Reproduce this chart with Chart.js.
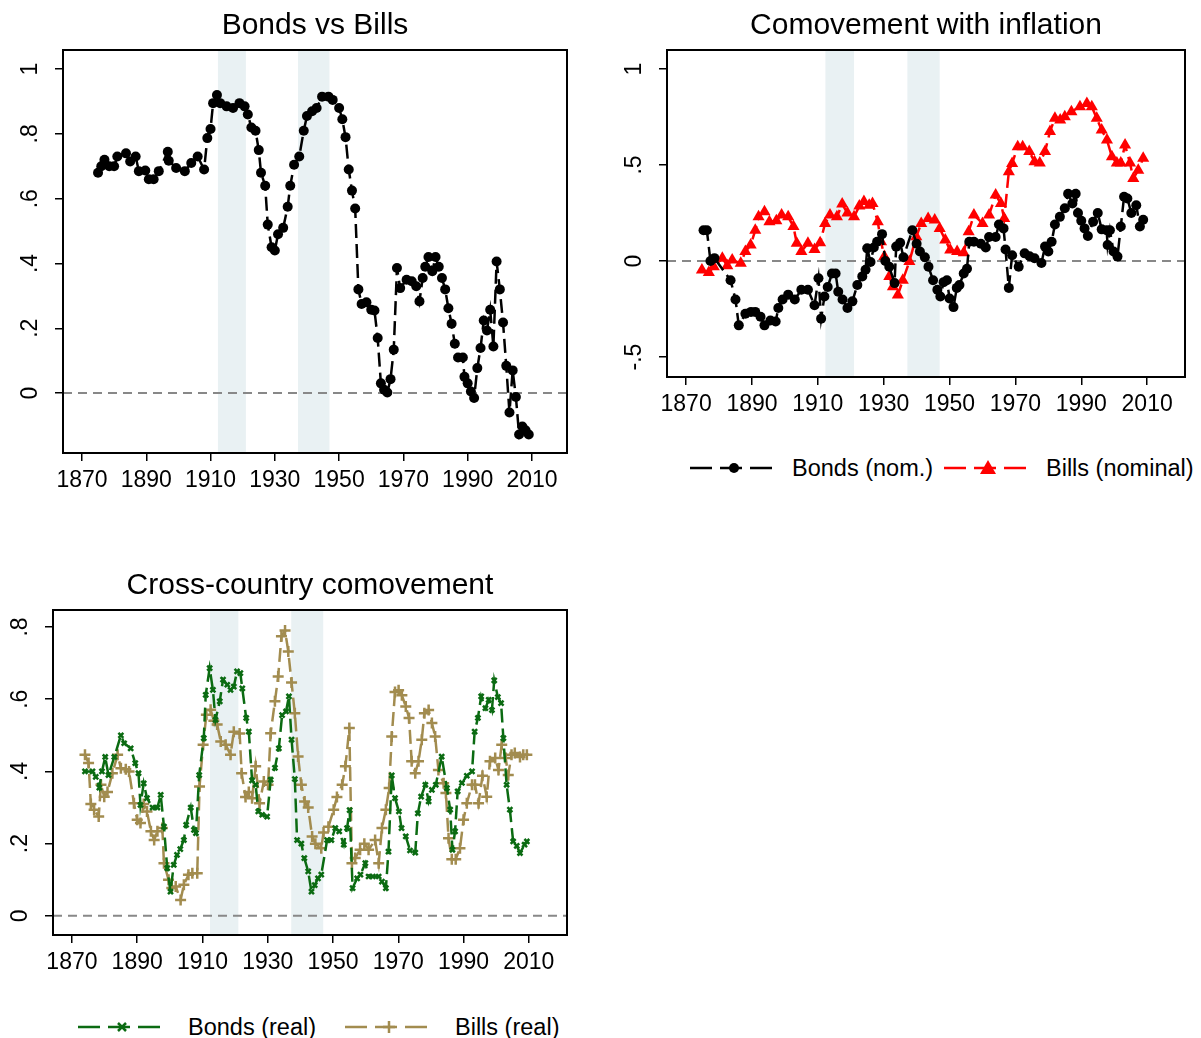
<!DOCTYPE html>
<html><head><meta charset="utf-8">
<script src="https://cdn.jsdelivr.net/npm/chart.js@4/dist/chart.umd.min.js"></script>
<style>
body{margin:0;background:#fff;width:1201px;height:1038px;position:relative;overflow:hidden;font-family:"Liberation Sans",Arial,sans-serif}
.c{position:absolute}
.leg{position:absolute;font-size:23.5px;line-height:24px;white-space:nowrap}
</style></head><body>
<div class="c" style="left:0;top:0;width:590px;height:500px"><canvas id="c1"></canvas></div>
<div class="c" style="left:600px;top:0;width:600px;height:424px"><canvas id="c2"></canvas></div>
<div class="c" style="left:0;top:560px;width:590px;height:422px"><canvas id="c3"></canvas></div>
<svg class="leg" style="left:690px;top:456px" width="88" height="24"><line x1="0" y1="12" x2="88" y2="12" stroke="#000" stroke-width="2.5" stroke-dasharray="22,8"/><circle cx="44" cy="12" r="5" fill="#000"/></svg>
<div class="leg" style="left:792px;top:456px">Bonds (nom.)</div>
<svg class="leg" style="left:944px;top:456px" width="88" height="24"><line x1="0" y1="12" x2="88" y2="12" stroke="#f00" stroke-width="2.5" stroke-dasharray="22,8"/><polygon points="44,4 52,18 36,18" fill="#f00"/></svg>
<div class="leg" style="left:1046px;top:456px">Bills (nominal)</div>
<svg class="leg" style="left:78px;top:1015px" width="88" height="24"><line x1="0" y1="12" x2="88" y2="12" stroke="#0b6b12" stroke-width="2.5" stroke-dasharray="22,8"/><path d="M40,8 L48,16 M48,8 L40,16" stroke="#0b6b12" stroke-width="2.5"/></svg>
<div class="leg" style="left:188px;top:1015px">Bonds (real)</div>
<svg class="leg" style="left:345px;top:1015px" width="88" height="24"><line x1="0" y1="12" x2="88" y2="12" stroke="#a28c4f" stroke-width="2.5" stroke-dasharray="22,8"/><path d="M44,6 L44,18 M38,12 L50,12" stroke="#a28c4f" stroke-width="2.5"/></svg>
<div class="leg" style="left:455px;top:1015px">Bills (real)</div>
<script>
const xTicks=[1870,1890,1910,1930,1950,1970,1990,2010];
const yTicks1=[0,0.2,0.4,0.6,0.8,1];
const yTicks2=[-0.5,0,0.5,1];
const yTicks3=[0,0.2,0.4,0.6,0.8];
const warBands=[[1912.3,1921],[1937.2,1947]];

const bbYears=[1875,1876,1877,1878.5,1880,1881,1883.7,1885,1886.7,1887.7,1889.7,1890.8,1892.3,1893.9,1896.7,1897,1899.3,1902,1904,1906,1908,1909,1910,1910.8,1912,1913,1915,1917,1919,1920.6,1921.6,1922.7,1924,1925,1925.7,1927,1927.8,1929,1930,1931,1932.6,1934,1934.8,1936,1937.6,1939,1940,1941.6,1943,1944.7,1946.7,1948,1950,1951,1952,1953,1954,1955,1956,1957,1958.5,1960,1961,1962,1963,1964,1965,1966,1967,1968,1969,1971,1972.6,1974,1975,1976,1976.8,1977.8,1979,1980,1981,1982,1983,1984,1985,1986,1987,1988.5,1989,1990,1991,1992,1993,1994,1995,1996,1997,1998,1999,2000,2001,2002,2003,2004,2005,2006,2007,2008,2009];
const bbVals=[.68,.70,.72,.70,.70,.73,.74,.715,.73,.685,.687,.66,.66,.685,.745,.717,.695,.685,.71,.73,.69,.787,.815,.895,.92,.895,.885,.88,.895,.885,.86,.82,.81,.75,.68,.64,.52,.45,.44,.49,.51,.575,.64,.705,.73,.81,.855,.87,.88,.915,.915,.905,.88,.845,.79,.69,.625,.57,.32,.275,.28,.257,.255,.17,.03,.01,.002,.043,.134,.386,.324,.35,.345,.33,.283,.355,.39,.42,.376,.42,.39,.355,.32,.262,.214,.152,.11,.11,.05,.03,.005,-.015,.077,.139,.224,.193,.257,.144,.406,.32,.218,.084,-.06,.07,-.012,-.128,-.103,-.115,-.128];

const bnYears=[1875.3,1876.3,1877.4,1878.6,1883.5,1885,1886,1888,1889.7,1891,1892.6,1893.8,1895.6,1897.2,1898,1899.3,1901,1903,1905,1907,1909,1910.2,1911,1912,1913,1914.3,1915.4,1916.2,1917.5,1919,1920.5,1922,1923.5,1924.5,1925,1926,1927,1928,1929.5,1930.5,1931.7,1933.3,1933.8,1935,1936,1938.7,1940,1941,1942.5,1943.6,1945,1946.3,1947.2,1948.2,1949.2,1950,1951.2,1952.2,1953,1954.3,1955.3,1956,1957.4,1959.5,1961,1962,1964,1965,1966.4,1967,1968,1969,1971,1972.8,1974.3,1975.8,1977.9,1979,1980,1981,1982,1983.5,1985,1986,1987.3,1988.3,1989,1990,1991,1992,1993.6,1995,1996.2,1997.7,1998,1998.7,1999.8,2001,2002,2003,2004,2005.2,2006.7,2007.8,2008.8];
const bnVals=[.16,.16,0,.015,-.1,-.2,-.335,-.275,-.265,-.265,-.29,-.335,-.31,-.315,-.245,-.2,-.175,-.2,-.15,-.15,-.23,-.09,-.3,-.185,-.135,-.065,-.065,-.16,-.2,-.245,-.21,-.125,-.08,-.045,.066,-.005,.07,.1,.14,.0,-.03,-.115,.075,.095,.02,.16,.09,.05,.02,-.03,-.1,-.15,-.185,-.11,-.1,-.195,-.24,-.14,-.125,-.065,-.04,.1,.1,.09,.07,.125,.125,.19,.17,.06,-.14,.03,-.03,.04,.025,.014,-.01,.075,.05,.1,.19,.23,.275,.35,.3,.35,.25,.21,.17,.13,.205,.25,.165,.16,.083,.16,.05,.023,.18,.335,.326,.25,.29,.18,.215];

const blYears=[1874.8,1876.9,1878.4,1881,1882.5,1884,1886.6,1888,1889.6,1891,1892,1893.8,1895.3,1897.4,1899,1901,1902.6,1903.6,1905,1907,1909,1910.7,1912.2,1913.7,1915.8,1917.4,1919,1921,1922.6,1924,1925.6,1926.6,1928.2,1929.2,1930.2,1931.7,1932.8,1934.3,1935.8,1937.8,1939.9,1941.4,1943.5,1945.5,1947,1948.7,1950.2,1952.3,1954.3,1955.8,1957.4,1960,1962,1964,1965.6,1966.6,1968,1969,1970.7,1972.2,1974.2,1975.8,1977.4,1979,1980.5,1982,1983.6,1985,1987,1989.6,1991.7,1993.2,1994.7,1996.2,1997.8,1999.3,2000.8,2002,2003.3,2004.8,2005.8,2007.3,2008.8];
const blVals=[-.047,-.06,-.03,.015,-.025,.005,-.012,.05,.083,.16,.23,.257,.205,.21,.24,.23,.18,.092,.05,.092,.06,.095,.196,.24,.23,.297,.25,.23,.286,.31,.29,.3,.205,.1,.023,-.08,-.134,-.177,-.1,-.003,.127,.196,.222,.213,.17,.11,.057,.05,.043,.153,.24,.196,.24,.344,.3,.222,.465,.508,.595,.595,.57,.517,.51,.57,.674,.743,.734,.752,.778,.804,.82,.804,.743,.682,.63,.543,.51,.51,.604,.51,.43,.473,.535];

const brYears=[1874,1876.3,1877.3,1878.4,1879.2,1880.2,1881.2,1883,1885,1886,1888,1889.4,1890.4,1891,1892,1893,1894.7,1896.2,1897.2,1898.2,1899.2,1900.2,1901.2,1902.2,1903.2,1904.3,1905,1906.4,1907.4,1908,1909,1910.4,1911,1912.2,1913.2,1914,1915.3,1916.3,1917.6,1918.6,1919.6,1920.6,1921.6,1922.2,1923.4,1924.2,1925.2,1926.3,1927.1,1928.3,1929.8,1930.9,1932.2,1933.4,1934.4,1935.6,1936.5,1937.3,1938.3,1939,1940.3,1941.2,1942.4,1943.4,1944.4,1945.4,1946.4,1948.2,1949.5,1950.7,1951.9,1953.3,1954.3,1955.1,1956,1957.4,1958.4,1959.9,1960.9,1962.2,1964,1965,1966.2,1967,1968,1969,1970.2,1971,1972.3,1973.6,1975.2,1976,1977,1978.3,1979.3,1980.3,1981.5,1983.3,1984.9,1985.9,1986.6,1987.4,1988.2,1989.5,1991,1992.6,1993.4,1994.4,1995.4,1996.7,1997.7,1998.7,1999.4,2000.5,2001.5,2002.2,2003.2,2004.2,2005.2,2006.3,2007.3,2008.7,2009.4];
const brVals=[.40,.40,.385,.355,.40,.44,.39,.44,.50,.478,.464,.423,.395,.307,.367,.326,.3,.3,.335,.247,.132,.067,.141,.169,.185,.21,.252,.3,.238,.229,.39,.492,.612,.686,.626,.543,.594,.654,.64,.626,.635,.677,.672,.63,.548,.51,.375,.363,.289,.28,.275,.377,.41,.464,.556,.566,.608,.488,.379,.21,.2,.16,.123,.067,.085,.104,.114,.21,.21,.243,.234,.197,.243,.293,.077,.104,.114,.146,.109,.109,.109,.095,.077,.178,.389,.326,.289,.243,.22,.181,.175,.284,.33,.363,.317,.349,.363,.441,.354,.294,.183,.234,.345,.368,.388,.40,.51,.548,.608,.575,.598,.57,.652,.606,.589,.492,.363,.294,.206,.194,.174,.197,.206];

const rlYears=[1874,1875.1,1875.8,1876.8,1878.2,1878.9,1879.9,1880.9,1882.4,1884,1885,1886.5,1887.5,1889,1890,1891,1892,1893,1894.2,1895.2,1896.2,1897.7,1898.2,1899.6,1900.6,1901.8,1903.3,1904.3,1905.7,1906.9,1908.4,1909.1,1910.2,1911.2,1912.5,1913.5,1914.5,1915.6,1917.1,1918.6,1919.6,1921.4,1922,1923.2,1924.2,1925.2,1926.3,1927.5,1928.8,1930.1,1930.9,1932.2,1933.2,1934.2,1935.3,1936.3,1937.3,1938.3,1939.3,1940.3,1941.3,1942.4,1943.6,1944.6,1946.4,1947.1,1948.6,1950.2,1951.2,1952.8,1953.8,1955,1955.8,1956.8,1958.3,1959.6,1960.9,1962.9,1964,1965,1966.2,1967.2,1968,1969,1970.1,1971.1,1972.3,1973.3,1974.1,1975.2,1976.2,1977.2,1978,1979.3,1980.3,1981.3,1982.3,1983.9,1984.6,1985.4,1986.4,1987.6,1988.9,1990,1991,1992.6,1993.5,1994.6,1995.8,1997.1,1998.1,1999.7,2000.7,2001.7,2002.9,2003.7,2004.7,2005.7,2007.3,2008.3,2009.4];
const rlVals=[.446,.423,.31,.294,.275,.363,.33,.343,.395,.446,.409,.406,.40,.312,.266,.257,.31,.289,.234,.21,.234,.243,.146,.1,.077,.081,.044,.086,.114,.118,.118,.358,.474,.557,.571,.54,.53,.483,.474,.446,.51,.505,.395,.329,.343,.326,.414,.312,.372,.363,.506,.594,.663,.774,.79,.732,.646,.561,.441,.363,.317,.3,.22,.2,.187,.231,.247,.294,.329,.363,.414,.52,.146,.16,.183,.2,.183,.21,.146,.243,.294,.354,.497,.62,.625,.611,.58,.548,.428,.395,.428,.488,.561,.57,.534,.497,.404,.367,.34,.215,.157,.157,.187,.266,.312,.363,.363,.312,.388,.33,.428,.437,.404,.474,.437,.39,.446,.451,.44,.446,.446];

const zip=(xs,ys)=>xs.map((x,i)=>({x,y:ys[i]}));
const fmt=v=>{let s=(Math.round(v*10)/10).toString();return s.replace(/^0\./,'.').replace(/^-0\./,'-.');};
const FONT='"Liberation Sans",Arial,sans-serif';

function decor(title,yTicks){
 return {id:'decor',
  beforeDatasetsDraw(ch){const {ctx,chartArea:a,scales:{x,y}}=ch;ctx.save();ctx.fillStyle='#e9f1f3';
   warBands.forEach(b=>{const l=x.getPixelForValue(b[0]),r=x.getPixelForValue(b[1]);ctx.fillRect(l,a.top,r-l,a.bottom-a.top);});
   const zy=y.getPixelForValue(0);ctx.strokeStyle='#888';ctx.lineWidth=2;ctx.setLineDash([9,6]);
   ctx.beginPath();ctx.moveTo(a.left,zy);ctx.lineTo(a.right,zy);ctx.stroke();ctx.restore();},
  afterDraw(ch){const {ctx,chartArea:a,scales:{y}}=ch;ctx.save();ctx.strokeStyle='#000';ctx.lineWidth=2;
   ctx.strokeRect(a.left,a.top,a.right-a.left,a.bottom-a.top);
   ctx.fillStyle='#000';ctx.font='30px '+FONT;ctx.textAlign='center';ctx.textBaseline='middle';
   ctx.fillText(title,(a.left+a.right)/2,26);
   ctx.font='23px '+FONT;
   yTicks.forEach(v=>{const py=y.getPixelForValue(v);ctx.save();ctx.translate(a.left-32,py);ctx.rotate(-Math.PI/2);ctx.fillText(fmt(v),0,0);ctx.restore();});
   ctx.restore();}};
}
function ds(data,color,style,r){return {data,borderColor:color,backgroundColor:color,borderWidth:2.5,borderDash:[14,6],pointStyle:style,pointRadius:r,pointBorderWidth:style==='circle'||style==='triangle'?0:2.5,pointBorderColor:color,tension:0};}
function make(id,datasets,xr,yr,yTicks,title,yw,pad){
 new Chart(document.getElementById(id),{type:'line',data:{datasets},
  options:{responsive:true,maintainAspectRatio:false,animation:false,
   layout:{padding:{top:50,right:pad,left:0,bottom:0}},
   plugins:{legend:{display:false},tooltip:{enabled:false}},
   scales:{
    x:{type:'linear',min:xr[0],max:xr[1],afterBuildTicks:s=>{s.ticks=xTicks.map(v=>({value:v}));},afterFit:s=>{s.height=47;},
       grid:{drawOnChartArea:false,drawTicks:true,tickLength:8,color:'#000',lineWidth:1.5},border:{display:false},
       ticks:{color:'#000',font:{size:23,family:FONT},padding:6,maxRotation:0,callback:v=>v}},
    y:{type:'linear',min:yr[0],max:yr[1],afterBuildTicks:s=>{s.ticks=yTicks.map(v=>({value:v}));},afterFit:s=>{s.width=yw;},
       grid:{drawOnChartArea:false,drawTicks:true,tickLength:8,color:'#000',lineWidth:1.5},border:{display:false},
       ticks:{color:'rgba(0,0,0,0)',font:{size:1}}}}},
  plugins:[decor(title,yTicks)]});
}
make('c1',[ds(zip(bbYears,bbVals),'#000','circle',5)],[1864.1,2020.9],[-0.185,1.059],yTicks1,'Bonds vs Bills',63,23);
make('c2',[ds(zip(bnYears,bnVals),'#000','circle',5),ds(zip(blYears,blVals),'#f00','triangle',7)],[1864.2,2021.5],[-0.604,1.099],yTicks2,'Comovement with inflation',67,15);
make('c3',[ds(zip(brYears,brVals),'#0b6b12','crossRot',3.5),ds(zip(rlYears,rlVals),'#a28c4f','cross',5.5)],[1864.2,2021.7],[-0.053,0.847],yTicks3,'Cross-country comovement',53,23);
</script></body></html>
